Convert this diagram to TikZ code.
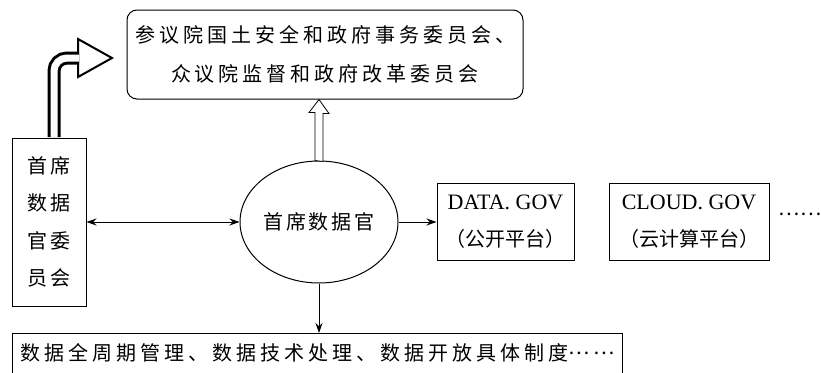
\documentclass[tikz,border=0pt]{standalone}
\usepackage{fontspec}
\setmainfont{Liberation Serif}
\newfontfamily\cjk{Noto Sans CJK SC}
\newfontfamily\cjkwide{Noto Sans CJK SC}[LetterSpace=20]
\newfontfamily\cjkmid{Noto Sans CJK SC}[LetterSpace=13]
\newcommand{\latin}{\rmfamily\fontsize{22}{37}\selectfont}
\newcommand{\middots}{\raisebox{6pt}{……}}
\usetikzlibrary{shapes.geometric,arrows.meta}

\begin{document}
\begin{tikzpicture}[x=1pt, y=-1pt, line width=1pt,
    >={Stealth[length=10pt,width=7pt]},
    box/.style={draw, inner sep=0pt, align=center},
    platform/.style={box, minimum height=77pt, font=\fontsize{20}{37}\cjk}]
        \useasboundingbox (0,0) rectangle (821,372);

        % Congress committees
        \node[box, rounded corners=10pt, minimum width=396pt, minimum height=89pt,
              font=\fontsize{20}{39}\cjkwide] (congress) at (325,54.5)
              {参议院国土安全和政府事务委员会、\\众议院监督和政府改革委员会};

        % Board and officer
        \node[box, minimum width=74pt, minimum height=168pt,
              font=\fontsize{20}{37.5}\cjkmid] (cdoboard) at (49,222)
              {首席\\数据\\官委\\员会};
        \node[draw, ellipse, minimum width=158pt, minimum height=122pt, inner sep=0pt,
              font=\fontsize{20}{24}\cjkmid] (cdo) at (319,222) {首席数据官};

        % Platforms
        \node[platform, minimum width=137pt] (datagov) at (505.5,222)
              {{\latin DATA. GOV}\\（公开平台）};
        \node[platform, minimum width=160pt] (cloudgov) at (689,222)
              {{\latin CLOUD. GOV}\\（云计算平台）};
        \node[inner sep=0pt, font=\fontsize{20}{24}\cjk] (moredots) at (800,214) {……};

        % Measures
        \node[draw, anchor=north west, inner xsep=8pt, inner ysep=0pt,
              text height=27pt, text depth=30pt, font=\fontsize{20}{24}\cjkwide]
              (measures) at (12,333) {数据全周期管理、数据技术处理、数据开放具体制度\middots};

        % Connections
        \draw[<->] (cdoboard.east |- cdo) -- (cdo.west);
        \draw[->] (cdo.east) -- (datagov.west);
        \draw[->] (cdo.south) -- (cdo.south |- measures.north);

        % Hollow arrow up to congress
        \draw[line width=0.8pt, fill=white] (cdo.north) ++(-4,0) -- ++(0,-48) -- ++(-6,0)
              -- (cdo.north |- congress.south) -- ++(10,14) -- ++(-6,0) -- ++(0,48) -- cycle;

        % Bent arrow from the board
        \coordinate (bendtip) at (112,58);
        \draw[line width=2pt, fill=white] (bendtip) -- ++(-34,-19) -- ++(0,38) -- cycle;
        \draw[double=white, double distance=7pt, line width=3pt, rounded corners=13pt]
              ([xshift=5pt, yshift=0.5pt]cdoboard.north) |- ([xshift=-33pt]bendtip);
\end{tikzpicture}
\end{document}
